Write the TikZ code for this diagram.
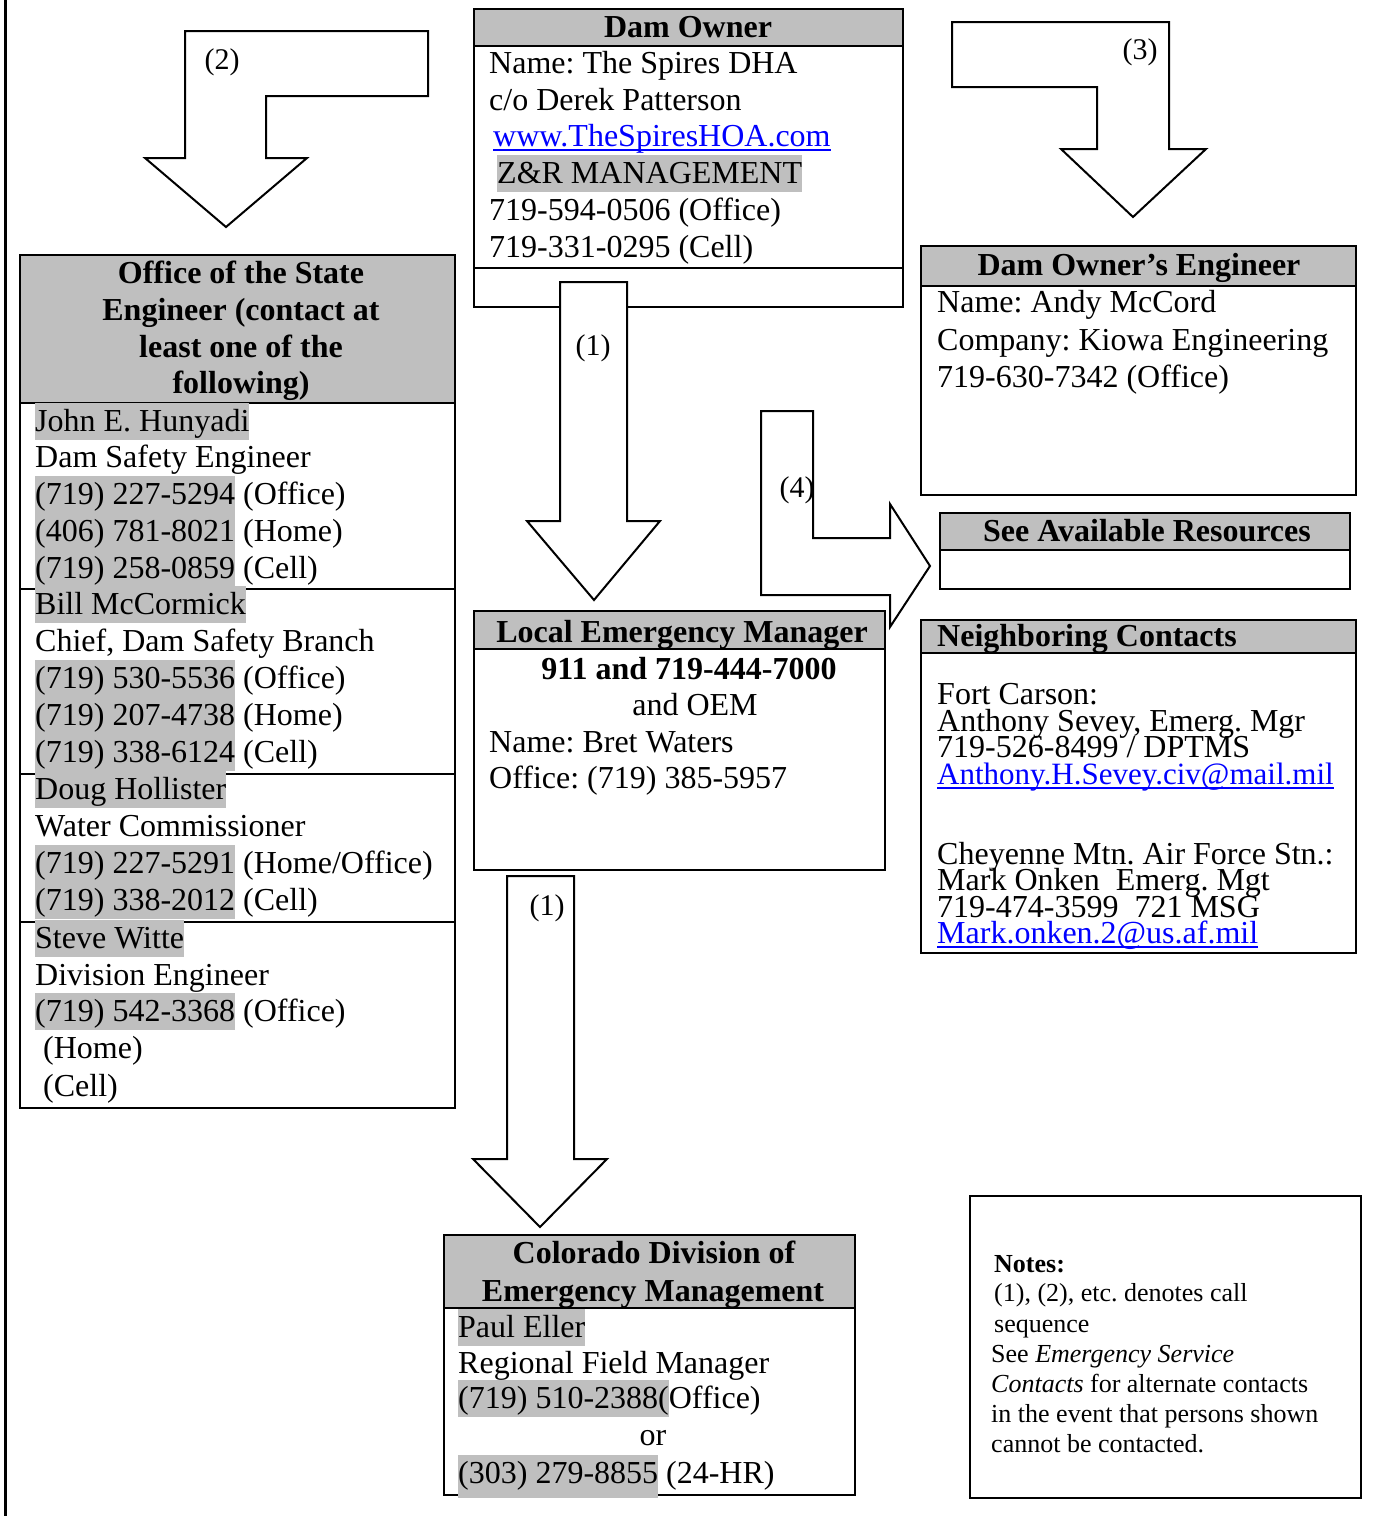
\documentclass[tikz,border=0pt]{standalone}
\usepackage{fontspec}
\setmainfont{Liberation Serif}
\frenchspacing
\definecolor{hl}{RGB}{191,191,191}
\definecolor{linkblue}{RGB}{0,0,255}
\newcommand\hlt[1]{{\setlength{\fboxsep}{0pt}\colorbox{hl}{\rule[-9pt]{0pt}{37pt}#1}}}
\newcommand\hltd[1]{{\setlength{\fboxsep}{0pt}\colorbox{hl}{\rule[-15pt]{0pt}{43pt}#1}}}
\tikzset{
  boxline/.style={draw=black, line width=2pt},
  txt/.style={anchor=base west, inner sep=0pt, font=\fontsize{32}{37}\selectfont},
  ctxt/.style={anchor=base, inner sep=0pt, font=\fontsize{32}{37}\selectfont},
  btxt/.style={anchor=base, inner sep=0pt, font=\fontsize{32}{37}\selectfont\bfseries},
  bltxt/.style={anchor=base west, inner sep=0pt, font=\fontsize{32}{37}\selectfont\bfseries},
  ntxt/.style={anchor=base west, inner sep=0pt, font=\fontsize{26}{30}\selectfont},
  lbl/.style={anchor=base, inner sep=0pt, font=\fontsize{30}{34}\selectfont},
  blockarrow/.style={draw=black, fill=white, line width=2pt, line join=miter},
  linkline/.style={draw=linkblue, line width=1.6pt},
}
\newcommand\cbox[6]{%
  \fill[hl] (#2,#3) rectangle (#4,#6);
  \node[boxline, inner sep=0pt, outer sep=0pt, minimum width={#4-#2}, minimum height={#5-#3}, anchor=north west] (#1) at (#2,#3) {};
  \draw[boxline] (#2,#6) -- (#4,#6);
}
\begin{document}
\begin{tikzpicture}[x=1pt,y=-1pt]
\useasboundingbox (0,0) rectangle (1374,1516);
\fill[white] (0,0) rectangle (1374,1516);
% page border
\draw[line width=3pt] (5,0) -- (5,1516);

% ---------- boxes ----------
\cbox{owner}{474}{9}{903}{307}{46}
\draw[boxline] (474,268) -- (903,268);
\cbox{ose}{20}{255}{455}{1108}{403}
\draw[boxline] (20,589) -- (455,589);
\draw[boxline] (20,774) -- (455,774);
\draw[boxline] (20,922) -- (455,922);
\cbox{doe}{921}{246}{1356}{495}{286}
\cbox{sar}{940}{513}{1350}{589}{550}
\cbox{nbr}{921}{620}{1356}{953}{653}
\cbox{lem}{474}{611}{885}{870}{649}
\cbox{cdem}{444}{1235}{855}{1495}{1308}
\node[boxline, inner sep=0pt, outer sep=0pt, minimum width=391, minimum height=302, anchor=north west] (notes) at (970,1196) {};

% ---------- block arrows ----------
\draw[blockarrow] (185,31) -- (428,31) -- (428,96) -- (266,96) -- (266,158) -- (307,158) -- (226,227) -- (145,158) -- (185,158) -- cycle;
\draw[blockarrow] (560,282) -- (627,282) -- (627,521) -- (660,521) -- (594,600) -- (527,521) -- (560,521) -- cycle;
\draw[blockarrow] (952,22) -- (1169,22) -- (1169,149) -- (1206,149) -- (1133,217) -- (1061,149) -- (1097,149) -- (1097,87) -- (952,87) -- cycle;
\draw[blockarrow] (761,411) -- (813,411) -- (813,538) -- (890,538) -- (890,504) -- (930,566) -- (890,627) -- (890,595) -- (761,595) -- cycle;
\draw[blockarrow] (507,876) -- (574,876) -- (574,1159) -- (607,1159) -- (540,1227) -- (473,1159) -- (507,1159) -- cycle;

% arrow labels
\node[lbl] (l2) at (222,69) {(2)};
\node[lbl] (l1a) at (593,355) {(1)};
\node[lbl] (l3) at (1140,59) {(3)};
\node[lbl] (l4) at (797,497) {(4)};
\node[lbl] (l1b) at (547,915) {(1)};

% ---------- Dam Owner ----------
\node[btxt] (ownerh) at (688,37) {Dam Owner};
\node[txt] (o1) at (489,73) {Name: The Spires DHA};
\node[txt] (o2) at (489,110) {c/o Derek Patterson};
\node[txt, text=linkblue] (www) at (493,146) {www.TheSpiresHOA.com};
\draw[linkline] ([yshift=-4pt]www.base west) -- ([yshift=-4pt]www.base east);
\node[txt] (o4) at (497,183) {\hlt{Z\&R MANAGEMENT}};
\node[txt] (o5) at (489,220) {719-594-0506 (Office)};
\node[txt] (o6) at (489,257) {719-331-0295 (Cell)};

% ---------- Office of the State Engineer ----------
\node[btxt] (oseh1) at (241,283) {Office of the State};
\node[btxt] (oseh2) at (241,320) {Engineer (contact at};
\node[btxt] (oseh3) at (241,357) {least one of the};
\node[btxt] (oseh4) at (241,393) {following)};
\node[txt] (s1) at (35,431) {\hlt{John E. Hunyadi}};
\node[txt] (s2) at (35,467) {Dam Safety Engineer};
\node[txt] (s3) at (35,504) {\hlt{(719) 227-5294} (Office)};
\node[txt] (s4) at (35,541) {\hlt{(406) 781-8021} (Home)};
\node[txt] (s5) at (35,578) {\hlt{(719) 258-0859} (Cell)};
\node[txt] (s6) at (35,614) {\hlt{Bill McCormick}};
\node[txt] (s7) at (35,651) {Chief, Dam Safety Branch};
\node[txt] (s8) at (35,688) {\hlt{(719) 530-5536} (Office)};
\node[txt] (s9) at (35,725) {\hlt{(719) 207-4738} (Home)};
\node[txt] (s10) at (35,762) {\hlt{(719) 338-6124} (Cell)};
\node[txt] (s11) at (35,799) {\hlt{Doug Hollister}};
\node[txt] (s12) at (35,836) {Water Commissioner};
\node[txt] (s13) at (35,873) {\hlt{(719) 227-5291} (Home/Office)};
\node[txt] (s14) at (35,910) {\hlt{(719) 338-2012} (Cell)};
\node[txt] (s15) at (35,948) {\hlt{Steve Witte}};
\node[txt] (s16) at (35,985) {Division Engineer};
\node[txt] (s17) at (35,1021) {\hlt{(719) 542-3368} (Office)};
\node[txt] (s18) at (43,1058) {(Home)};
\node[txt] (s19) at (43,1096) {(Cell)};

% ---------- Dam Owner's Engineer ----------
\node[btxt] (doeh) at (1139,275) {Dam Owner’s Engineer};
\node[txt] (d1) at (937,312) {Name: Andy McCord};
\node[txt] (d2) at (937,350) {Company: Kiowa Engineering};
\node[txt] (d3) at (937,387) {719-630-7342 (Office)};

% ---------- See Available Resources ----------
\node[btxt] (sarh) at (1147,541) {See Available Resources};

% ---------- Neighboring Contacts ----------
\node[bltxt] (nbrh) at (937,646) {Neighboring Contacts};
\node[txt] (n1) at (937,704) {Fort Carson:};
\node[txt] (n2) at (937,731) {Anthony Sevey, Emerg. Mgr};
\node[txt] (n3) at (937,757) {719-526-8499 / DPTMS};
\node[txt, text=linkblue, font=\fontsize{31}{36}\selectfont] (mail1) at (937,784) {Anthony.H.Sevey.civ@mail.mil};
\draw[linkline] ([yshift=-4pt]mail1.base west) -- ([yshift=-4pt]mail1.base east);
\node[txt] (n5) at (937,864) {Cheyenne Mtn. Air Force Stn.:};
\node[txt] (n6) at (937,890) {Mark Onken~~Emerg. Mgt};
\node[txt] (n7) at (937,917) {719-474-3599~~721 MSG};
\node[txt, text=linkblue] (mail2) at (937,943) {Mark.onken.2@us.af.mil};
\draw[linkline] ([yshift=-4pt]mail2.base west) -- ([yshift=-4pt]mail2.base east);

% ---------- Local Emergency Manager ----------
\node[btxt] (lemh) at (682,642) {Local Emergency Manager};
\node[btxt] (e1) at (689,679) {911 and 719-444-7000};
\node[ctxt] (e2) at (695,715) {and OEM};
\node[txt] (e3) at (489,752) {Name: Bret Waters};
\node[txt] (e4) at (489,788) {Office: (719) 385-5957};

% ---------- Colorado Division of Emergency Management ----------
\node[btxt] (cdemh1) at (654,1263) {Colorado Division of};
\node[btxt] (cdemh2) at (653,1301) {Emergency Management};
\node[txt] (c1) at (458,1337) {\hlt{Paul Eller}};
\node[txt] (c2) at (458,1373) {Regional Field Manager};
\node[txt] (c3) at (458,1408) {\hlt{(719) 510-2388(}Office)};
\node[ctxt] (c4) at (653,1445) {or};
\node[txt] (c5) at (458,1483) {\hltd{(303) 279-8855} (24-HR)};

% ---------- Notes ----------
\node[ntxt, font=\fontsize{26}{30}\selectfont\bfseries] (nt0) at (994,1272) {Notes:};
\node[ntxt] (nt1) at (994,1301) {(1), (2), etc. denotes call};
\node[ntxt] (nt2) at (994,1332) {sequence};
\node[ntxt] (nt3) at (991,1362) {See \textit{Emergency Service}};
\node[ntxt] (nt4) at (991,1392) {\textit{Contacts} for alternate contacts};
\node[ntxt] (nt5) at (991,1422) {in the event that persons shown};
\node[ntxt] (nt6) at (991,1452) {cannot be contacted.};
\end{tikzpicture}
\end{document}
